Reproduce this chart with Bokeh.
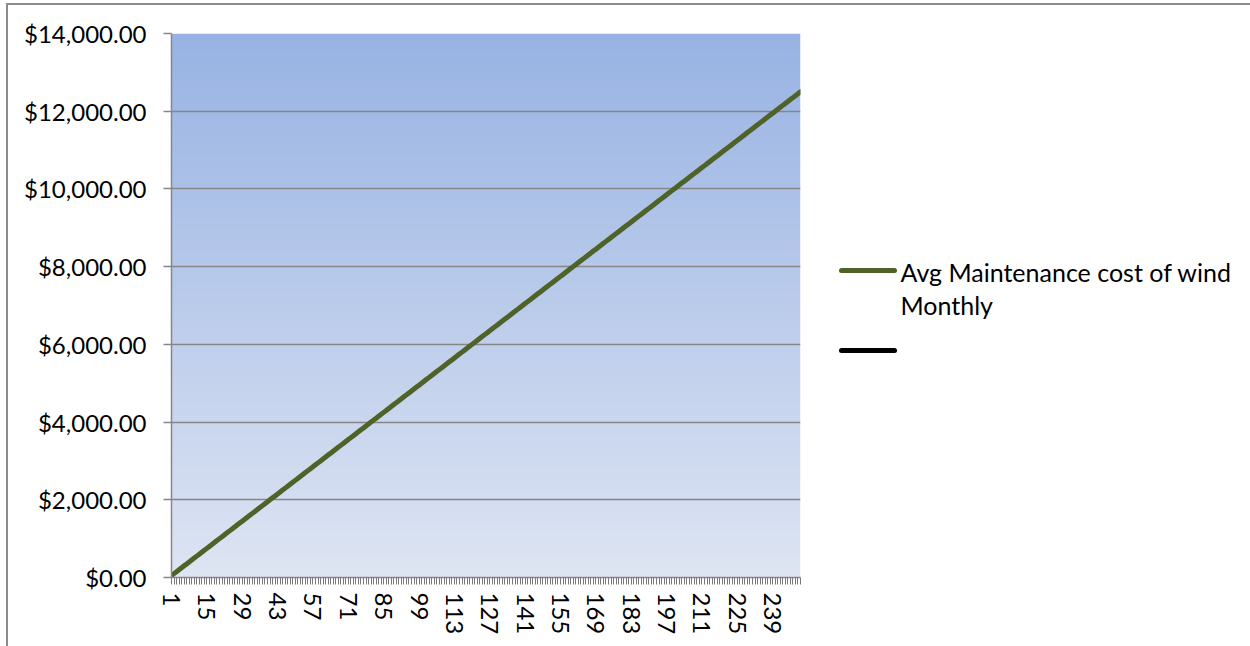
import numpy as np
from bokeh.plotting import figure
from bokeh.layouts import row
from bokeh.models import Range1d, FixedTicker, NumeralTickFormatter
from bokeh.core.properties import value
from bokeh.embed import file_html
from bokeh.resources import INLINE

# Month index (category axis) and cumulative average maintenance cost
months = list(range(1, 251))
maint_cost = [
    50, 100, 150, 200, 250, 300, 350, 400, 450, 500,
    550, 600, 650, 700, 750, 800, 850, 900, 950, 1000,
    1050, 1100, 1150, 1200, 1250, 1300, 1350, 1400, 1450, 1500,
    1550, 1600, 1650, 1700, 1750, 1800, 1850, 1900, 1950, 2000,
    2050, 2100, 2150, 2200, 2250, 2300, 2350, 2400, 2450, 2500,
    2550, 2600, 2650, 2700, 2750, 2800, 2850, 2900, 2950, 3000,
    3050, 3100, 3150, 3200, 3250, 3300, 3350, 3400, 3450, 3500,
    3550, 3600, 3650, 3700, 3750, 3800, 3850, 3900, 3950, 4000,
    4050, 4100, 4150, 4200, 4250, 4300, 4350, 4400, 4450, 4500,
    4550, 4600, 4650, 4700, 4750, 4800, 4850, 4900, 4950, 5000,
    5050, 5100, 5150, 5200, 5250, 5300, 5350, 5400, 5450, 5500,
    5550, 5600, 5650, 5700, 5750, 5800, 5850, 5900, 5950, 6000,
    6050, 6100, 6150, 6200, 6250, 6300, 6350, 6400, 6450, 6500,
    6550, 6600, 6650, 6700, 6750, 6800, 6850, 6900, 6950, 7000,
    7050, 7100, 7150, 7200, 7250, 7300, 7350, 7400, 7450, 7500,
    7550, 7600, 7650, 7700, 7750, 7800, 7850, 7900, 7950, 8000,
    8050, 8100, 8150, 8200, 8250, 8300, 8350, 8400, 8450, 8500,
    8550, 8600, 8650, 8700, 8750, 8800, 8850, 8900, 8950, 9000,
    9050, 9100, 9150, 9200, 9250, 9300, 9350, 9400, 9450, 9500,
    9550, 9600, 9650, 9700, 9750, 9800, 9850, 9900, 9950, 10000,
    10050, 10100, 10150, 10200, 10250, 10300, 10350, 10400, 10450, 10500,
    10550, 10600, 10650, 10700, 10750, 10800, 10850, 10900, 10950, 11000,
    11050, 11100, 11150, 11200, 11250, 11300, 11350, 11400, 11450, 11500,
    11550, 11600, 11650, 11700, 11750, 11800, 11850, 11900, 11950, 12000,
    12050, 12100, 12150, 12200, 12250, 12300, 12350, 12400, 12450, 12500,
]
x_tick_labels = [1, 15, 29, 43, 57, 71, 85, 99, 113, 127, 141, 155, 169, 183, 197, 211, 225, 239]
y_ticks = [0, 2000, 4000, 6000, 8000, 10000, 12000, 14000]
legend_labels = ["Avg Maintenance cost of wind", "Monthly"]

FONT = "Lato"
FONT_SIZE = "24px"
GRID = "#868686"
SERIES_COLOR = "#4F6228"

W_MAIN, W_LEG, H = 797, 445, 641

p = figure(
    width=W_MAIN, height=H,
    output_backend="svg", toolbar_location=None,
    x_range=Range1d(months[0], months[-1]),
    y_range=Range1d(y_ticks[0], y_ticks[-1]),
    min_border_left=163, min_border_top=28, min_border_bottom=69, min_border_right=5,
)
p.outline_line_color = None
p.background_fill_color = "white"
p.border_fill_color = "white"

# vertical blue gradient behind the plot area
top = np.array([152, 179, 227], dtype=float)
bottom = np.array([222, 229, 243], dtype=float)
n = 256
t = np.linspace(0.0, 1.0, n)[:, None]  # row 0 = bottom
rgb = bottom * (1 - t) + top * t
img = np.empty((n, 1), dtype=np.uint32)
view = img.view(dtype=np.uint8).reshape((n, 1, 4))
view[:, 0, 0] = rgb[:, 0].astype(np.uint8)
view[:, 0, 1] = rgb[:, 1].astype(np.uint8)
view[:, 0, 2] = rgb[:, 2].astype(np.uint8)
view[:, 0, 3] = 255
p.image_rgba(image=[img], x=months[0], y=y_ticks[0],
             dw=months[-1] - months[0], dh=y_ticks[-1] - y_ticks[0], level="image")

# data line
p.line(months, maint_cost, line_color=SERIES_COLOR, line_width=5, line_cap="round")

# grid
p.xgrid.grid_line_color = None
p.ygrid.grid_line_color = GRID
p.ygrid.grid_line_width = 1.5
p.ygrid.ticker = FixedTicker(ticks=y_ticks)

# y axis
yax = p.yaxis[0]
yax.ticker = FixedTicker(ticks=y_ticks, minor_ticks=[])
yax.formatter = NumeralTickFormatter(format="$0,0.00")
yax.axis_line_color = GRID
yax.axis_line_width = 1.5
yax.major_tick_line_color = GRID
yax.major_tick_line_width = 1.5
yax.major_tick_out = 8
yax.major_tick_in = 0
yax.major_label_standoff = 17
yax.major_label_text_font = FONT
yax.major_label_text_font_size = FONT_SIZE
yax.major_label_text_color = "black"

# x axis: a tick at every month, labels every 14th
xax = p.xaxis[0]
xax.ticker = FixedTicker(ticks=months, minor_ticks=[])
xax.major_label_overrides = {m: (str(m) if m in x_tick_labels else "") for m in months}
xax.major_label_orientation = "vertical"
xax.axis_line_color = GRID
xax.axis_line_width = 1.5
xax.major_tick_line_color = "#7a7a7a"
xax.major_tick_line_width = 1
xax.major_tick_out = 7
xax.major_tick_in = 0
xax.major_label_standoff = 8
xax.major_label_text_font = FONT
xax.major_label_text_font_size = FONT_SIZE
xax.major_label_text_color = "black"

# legend panel; its frame lines up with the chart frame, ranges are page pixels
leg = figure(
    width=W_LEG, height=H,
    output_backend="svg", toolbar_location=None,
    x_range=Range1d(805, 1250), y_range=Range1d(577, 33),
    min_border=0,
)
leg.axis.visible = False
leg.grid.visible = False
leg.outline_line_color = None
leg.background_fill_color = "white"
leg.border_fill_color = "white"

leg.line(x=[841, 894], y=[270, 270], line_color=SERIES_COLOR, line_width=5, line_cap="round")
leg.line(x=[841, 894], y=[350, 350], line_color="black", line_width=5, line_cap="round")
leg.text(x=[900, 900], y=[271, 304], text=legend_labels,
         text_font=value(FONT), text_font_size=value("25px"),
         text_color="black", text_baseline="middle", text_align="left")

layout = row(p, leg, spacing=0)
layout.margin = (3, 0, 0, 6)
layout.styles = {"border-top": "2px solid #8c8c8c", "border-left": "2px solid #8c8c8c"}

with open("out.html", "w") as f:
    f.write(file_html(layout, INLINE))
